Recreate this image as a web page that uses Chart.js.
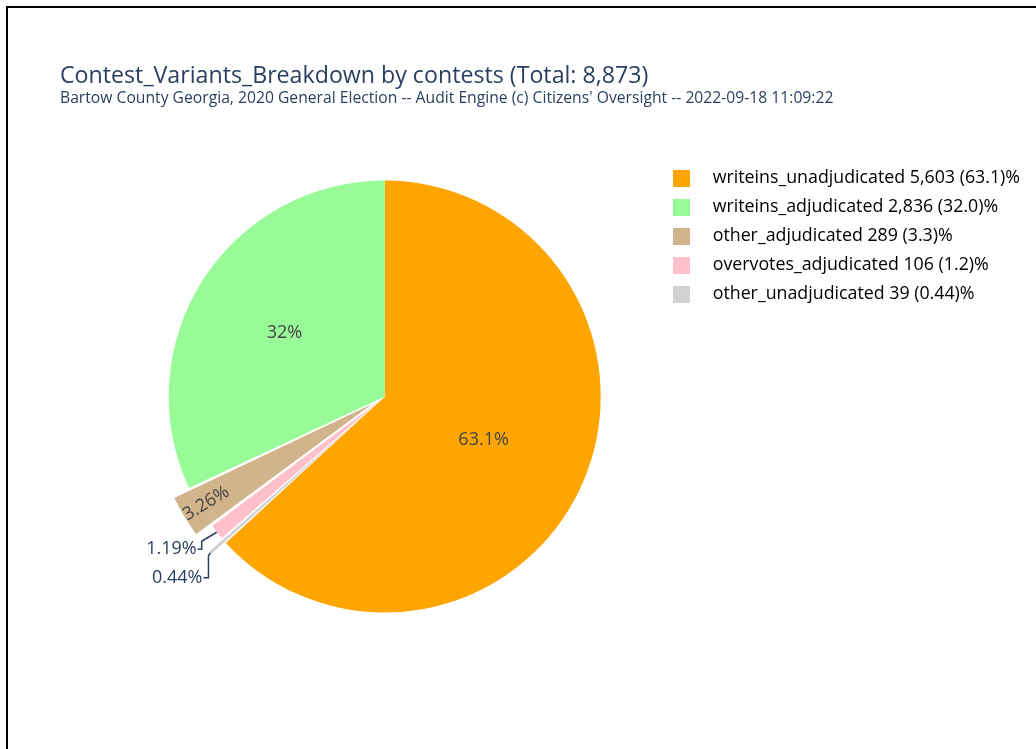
<!DOCTYPE html>
<html>
<head>
<meta charset="utf-8">
<title>Contest_Variants_Breakdown by contests</title>
<script src="https://cdn.jsdelivr.net/npm/chart.js@4.4.0/dist/chart.umd.min.js"></script>
<style>
  body { margin: 0; background: #fff; overflow: hidden; font-family: 'Open Sans', sans-serif; }
  #frame { position: absolute; left: 6px; top: 6px; width: 1100px; height: 800px; border: 2px solid #000; }
  #title { position: absolute; left: 60px; top: 58px; font-size: 23.2px; color: #2a3f5f; white-space: nowrap; }
  #subtitle { position: absolute; left: 60px; top: 86px; font-size: 15.7px; color: #2a3f5f; white-space: nowrap; }
  #chart { position: absolute; left: 0; top: 0; }
</style>
</head>
<body>
<div id="frame"></div>
<canvas id="chart" width="1036" height="749"></canvas>
<div id="title">Contest_Variants_Breakdown by contests (Total: 8,873)</div>
<div id="subtitle">Bartow County Georgia, 2020 General Election -- Audit Engine (c) Citizens' Oversight -- 2022-09-18 11:09:22</div>
<script>
'use strict';

// data (slice order, clockwise from 12 o'clock)

let categories = ['writeins_unadjudicated', 'other_unadjudicated', 'overvotes_adjudicated', 'other_adjudicated', 'writeins_adjudicated'];
let counts = [5603, 39, 106, 289, 2836];
let legendOrder = [0, 4, 3, 2, 1];

// styles

let sliceColors = ['#ffa500', '#d3d3d3', '#ffc0cb', '#d2b48c', '#98fb98'];
// chart.js moves an arc out by about half of its offset
let slicePull = [0, 36, 0, 40, 0];
let textColor = '#2a3f5f';

let total = counts.reduce((a, b) => a + b, 0);

function percentOf(i) {
  return counts[i] / total * 100;
}

// 63.1, 32, 3.26 ... as shown on the slices
function sliceText(i) {
  return parseFloat(percentOf(i).toPrecision(3)) + '%';
}

// 63.1, 32.0, 3.3 ... 0.44 as shown in the legend
function legendText(i) {
  let p = percentOf(i);
  let pctStr = p >= 1 ? p.toFixed(1) : p.toPrecision(2);
  return categories[i] + ' ' + counts[i].toLocaleString('en-US') + ' (' + pctStr + ')%';
}

function makeSwatch(color) {
  let c = document.createElement('canvas');
  c.width = 17;
  c.height = 17;
  let g = c.getContext('2d');
  g.fillStyle = color;
  g.fillRect(0, 0, 17, 17);
  return c;
}

// small slices get an outside label with an elbow leader line
let leaderLayout = {
  2: { bendDx: -15, bendDy: 9, textDx: -20, textDy: 17 },
  1: { bendDx: -2, bendDy: 3, textDx: -8, textDy: 25 }
};

let sliceLabels = {
  id: 'sliceLabels',
  afterDatasetsDraw(chart) {
    let ctx = chart.ctx;
    let meta = chart.getDatasetMeta(0);
    ctx.save();
    ctx.font = '18px "Open Sans"';
    ctx.textBaseline = 'middle';
    meta.data.forEach((arc, i) => {
      let p = arc.getProps(['x', 'y', 'startAngle', 'endAngle', 'outerRadius']);
      let pull = arc.options.offset / 2;
      let mid = (p.startAngle + p.endAngle) / 2;
      let cos = Math.cos(mid);
      let sin = Math.sin(mid);
      let text = sliceText(i);
      let pct = percentOf(i);

      if (pct > 10) {
        let r = p.outerRadius * (pct > 50 ? 0.5 : 0.55);
        ctx.fillStyle = '#444';
        ctx.textAlign = 'center';
        ctx.fillText(text, p.x + cos * r, p.y + sin * r);
      } else if (pct > 2) {
        let r = pull + p.outerRadius * 0.87;
        ctx.save();
        ctx.translate(p.x + cos * r, p.y + sin * r);
        ctx.rotate(mid + Math.PI);
        ctx.fillStyle = '#444';
        ctx.textAlign = 'center';
        ctx.fillText(text, 0, 0);
        ctx.restore();
      } else {
        let lay = leaderLayout[i];
        let ax = p.x + cos * (p.outerRadius + pull);
        let ay = p.y + sin * (p.outerRadius + pull);
        let bx = ax + lay.bendDx;
        let ty = ay + lay.textDy;
        let tx = ax + lay.textDx;
        ctx.strokeStyle = textColor;
        ctx.lineWidth = 1.5;
        ctx.beginPath();
        ctx.moveTo(ax, ay);
        ctx.lineTo(bx, ay + lay.bendDy);
        ctx.lineTo(bx, ty);
        ctx.lineTo(tx + 1, ty);
        ctx.stroke();
        ctx.fillStyle = textColor;
        ctx.textAlign = 'right';
        ctx.fillText(text, tx, ty);
      }
    });
    ctx.restore();
  }
};

Chart.defaults.font.family = "'Open Sans', sans-serif";

let canvasChart = document.getElementById('chart');
const myChart = new Chart(canvasChart, {
  type: 'pie',
  data: {
    labels: categories,
    datasets: [{
      data: counts,
      backgroundColor: sliceColors,
      borderColor: '#ffffff',
      borderWidth: [0, 0, 1, 1, 0],
      offset: slicePull
    }]
  },
  options: {
    responsive: false,
    animation: false,
    events: [],
    radius: 216,
    layout: {
      padding: { top: 158, left: 122, right: 6, bottom: 114 }
    },
    plugins: {
      tooltip: { enabled: false },
      legend: {
        position: 'right',
        align: 'start',
        labels: {
          usePointStyle: true,
          pointStyleWidth: 45.2,
          boxHeight: 16,
          padding: 11.2,
          color: textColor,
          font: { size: 17.8 },
          generateLabels: function () {
            return legendOrder.map(i => ({
              text: legendText(i),
              fillStyle: sliceColors[i],
              strokeStyle: sliceColors[i],
              lineWidth: 0,
              pointStyle: makeSwatch(sliceColors[i]),
              hidden: false,
              index: i
            }));
          }
        }
      }
    }
  },
  plugins: [sliceLabels]
});
</script>
</body>
</html>
